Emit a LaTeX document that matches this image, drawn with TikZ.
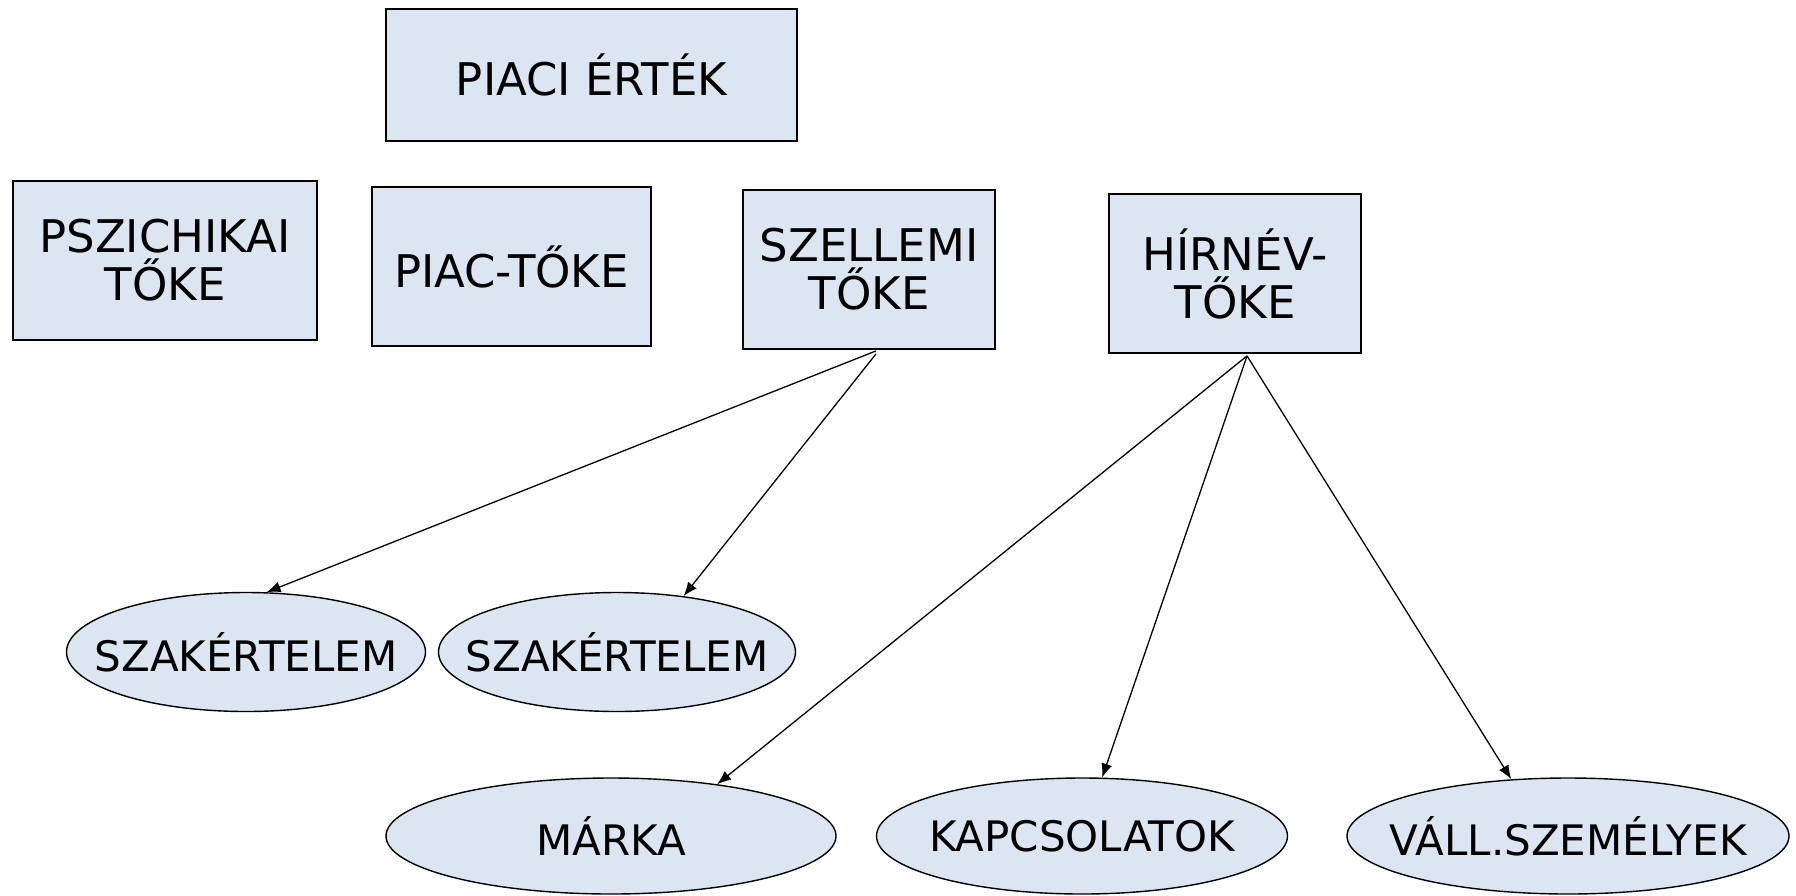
\documentclass[tikz,border=0pt]{standalone}
\usepackage{fontspec}
\setmainfont{DejaVu Sans}
\usetikzlibrary{shapes.geometric,arrows.meta}
\definecolor{boxfill}{HTML}{DCE6F2}
\newcommand{\lbl}[1]{\makebox[0pt]{#1}}
\tikzset{
  capbox/.style={draw=black, line width=1.8pt, fill=boxfill, rectangle, inner sep=0pt,
    align=center, font=\fontsize{45}{48}\selectfont},
  leaf/.style={draw=black, line width=1.4pt, fill=boxfill, ellipse, inner sep=0pt,
    font=\fontsize{42}{48}\selectfont},
  link/.style={line width=1.3pt, -{Latex[length=14pt,width=11pt]}}
}
\begin{document}
\begin{tikzpicture}[x=1pt,y=-1pt]
\useasboundingbox (0,0) rectangle (1796,895);
% top row of capital boxes
\node[capbox, minimum width=411pt, minimum height=132pt] (piaci) at (591.5,75) {PIACI ÉRTÉK};
\node[capbox, minimum width=304pt, minimum height=159pt] (psz) at (165,260.5) {PSZICHIKAI\\TŐKE};
\node[capbox, minimum width=279pt, minimum height=159pt] (piac) at (511.5,266.5) {PIAC-TŐKE};
\node[capbox, minimum width=252pt, minimum height=159pt] (szel) at (869,269.5) {SZELLEMI\\TŐKE};
\node[capbox, minimum width=252pt, minimum height=159pt] (hir) at (1235,273.5) {HÍRNÉV-\\TŐKE};
% components
\node[leaf, minimum width=359pt, minimum height=119pt] (szak1) at (246,652) {\lbl{SZAKÉRTELEM}};
\node[leaf, minimum width=357pt, minimum height=119pt] (szak2) at (617,652) {\lbl{SZAKÉRTELEM}};
\node[leaf, minimum width=450pt, minimum height=116pt] (marka) at (611,836) {\lbl{MÁRKA}};
\node[leaf, minimum width=411pt, minimum height=116pt] (kapcs) at (1082,836) {\lbl{KAPCSOLATOK}};
\node[leaf, minimum width=442pt, minimum height=116pt] (vall) at (1568,836) {\lbl{VÁLL.SZEMÉLYEK}};
% connectors
\draw[link] ([xshift=7pt,yshift=-1pt]szel.south) -- (szak1.71);
\draw[link] ([xshift=7pt,yshift=-4pt]szel.south) -- (szak2.40);
\draw[link] ([xshift=12pt,yshift=-2pt]hir.south) -- (marka.26);
\draw[link] ([xshift=12pt,yshift=-2pt]hir.south) -- (kapcs.71);
\draw[link] ([xshift=12pt,yshift=-2pt]hir.south) -- (vall.135);
\end{tikzpicture}
\end{document}
